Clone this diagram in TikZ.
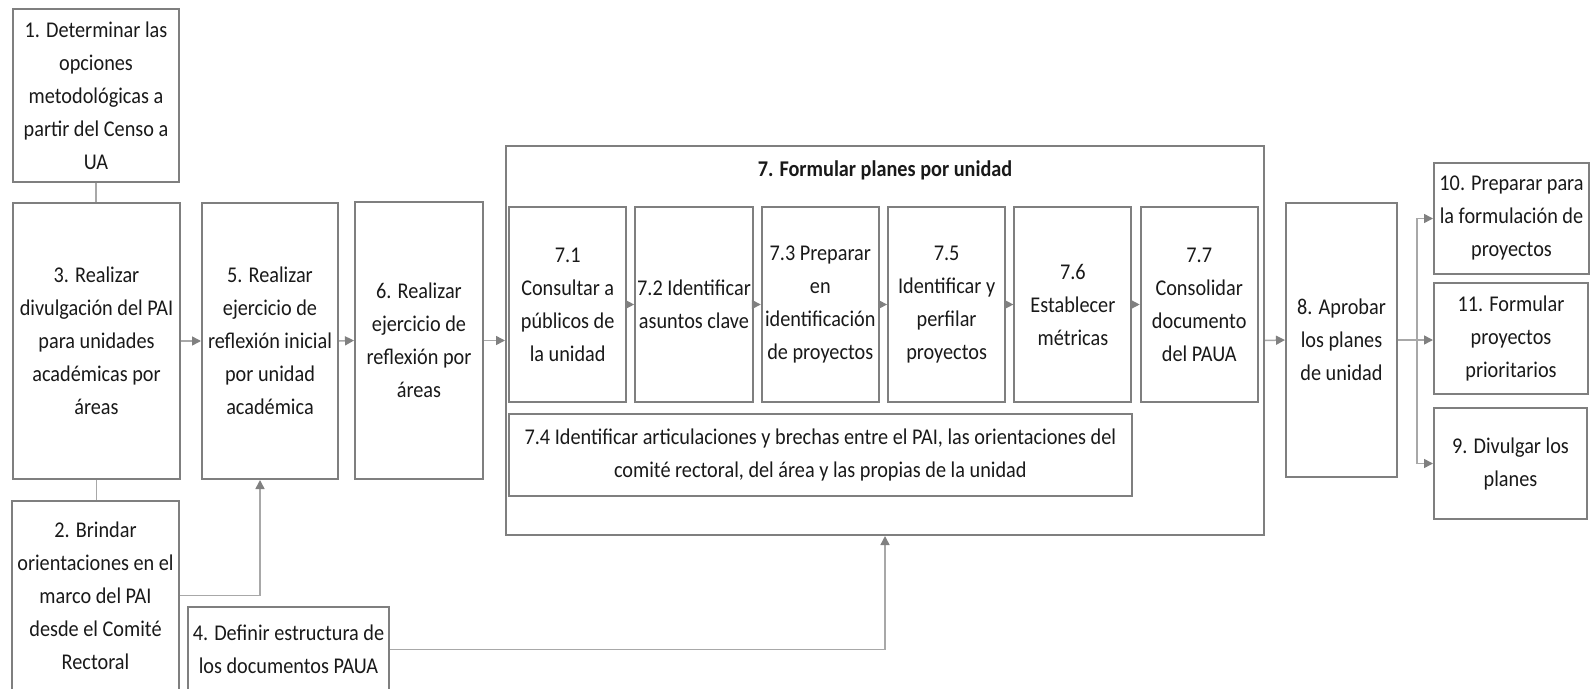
\documentclass[tikz,border=0pt]{standalone}
\usepackage{fontspec}
\newfontfamily\cajafont[FakeStretch=0.9]{Carlito}
\usetikzlibrary{arrows.meta}
\usetikzlibrary{positioning}
\usepackage{xcolor}
\definecolor{borde}{RGB}{127,127,127}
\definecolor{linea}{RGB}{168,168,168}
\definecolor{punta}{RGB}{128,128,128}
\definecolor{texto}{RGB}{25,25,25}

\begin{document}
\begin{tikzpicture}[x=1pt, y=-1pt,
		every node/.style={font=\cajafont\fontsize{22.5}{33}\selectfont, text=texto},
		caja/.style={draw=borde, line width=2pt, align=center, inner sep=2pt},
		flecha/.style={draw=linea, line width=1.5pt, -{Triangle[length=9pt,width=9pt,color=punta]}},
		union/.style={draw=linea, line width=1.5pt}]
		\useasboundingbox (0,0) rectangle (1595,688);

		% columna izquierda
		\node[caja, minimum width=166pt, minimum height=173pt] (b1) at (96,95.5) {1. Determinar las\\opciones\\metodológicas a\\partir del Censo a\\UA};
		\node[caja, minimum width=167pt, minimum height=276pt] (b3) at (96.5,341) {3. Realizar\\divulgación del PAI\\para unidades\\académicas por\\áreas};
		\node[caja, minimum width=167pt, minimum height=189pt] (b2) at (95.5,595.5) {2. Brindar\\orientaciones en el\\marco del PAI\\desde el Comité\\Rectoral};
		\node[caja, minimum width=136pt, minimum height=276pt] (b5) at (270,341) {5. Realizar\\ejercicio de\\reflexión inicial\\por unidad\\académica};
		\node[caja, minimum width=128pt, minimum height=277pt] (b6) at (419,340.5) {6. Realizar\\ejercicio de\\reflexión por\\áreas};
		\node[caja, minimum width=201pt, minimum height=85pt] (b4) at (288.5,649.5) {4. Definir estructura de\\los documentos PAUA};

		% bloque 7
		\node[caja, minimum width=758pt, minimum height=389pt] (c7) at (885,340.5) {};
		\node (t7) at (885,170) {\bfseries 7. Formular planes por unidad};
		\node[caja, minimum width=117pt, minimum height=195pt] (s71) at (567.7,304.5) {7.1\\Consultar a\\públicos de\\la unidad};
		\node[caja, minimum width=117pt, minimum height=195pt] (s72) at (694,304.5) {7.2 Identificar\\asuntos clave};
		\node[caja, minimum width=117pt, minimum height=195pt] (s73) at (820.3,304.5) {7.3 Preparar\\en\\identificación\\de proyectos};
		\node[caja, minimum width=117pt, minimum height=195pt] (s75) at (946.6,304.5) {7.5\\Identificar y\\perfilar\\proyectos};
		\node[caja, minimum width=117pt, minimum height=195pt] (s76) at (1072.9,304.5) {7.6\\Establecer\\métricas};
		\node[caja, minimum width=117pt, minimum height=195pt] (s77) at (1199.2,304.5) {7.7\\Consolidar\\documento\\del PAUA};
		\node[caja, minimum width=622.5pt, minimum height=82pt] (s74) at (820.3,455) {7.4 Identificar articulaciones y brechas entre el PAI, las orientaciones del\\comité rectoral, del área y las propias de la unidad};

		% columna derecha
		\node[caja, minimum width=111pt, minimum height=274pt] (b8) at (1341.5,340) {8. Aprobar\\los planes\\de unidad};
		\node[caja, minimum width=155pt, minimum height=111pt] (b10) at (1511.5,218.5) {10. Preparar para\\la formulación de\\proyectos};
		\node[caja, minimum width=154pt, minimum height=111pt] (b11) at (1511,338.5) {11. Formular\\proyectos\\prioritarios};
		\node[caja, minimum width=153pt, minimum height=111pt] (b9) at (1510.5,463.5) {9. Divulgar los\\planes};
		\coordinate (rama) at (1417,340);

		% conectores
		\draw[union] (b1.south) -- (b1.south |- b3.north);
		\draw[union] (b3.south) -- (b3.south |- b2.north);
		\draw[flecha] (b3.east) -- (b5.west);
		\draw[flecha] (b5.east) -- (b6.west);
		\draw[flecha] (b6.east) -- (c7.west);
		\draw[flecha] (b2.east) -| ([xshift=-10pt]b5.south);
		\draw[flecha] (b4.east) -| (c7.south);
		\draw[flecha] (s71) -- (s72);
		\draw[flecha] (s72) -- (s73);
		\draw[flecha] (s73) -- (s75);
		\draw[flecha] (s75) -- (s76);
		\draw[flecha] (s76) -- (s77);
		\draw[flecha] (c7.east) -- (b8.west);
		\draw[flecha] (b8.east) -- (b8.east -| b11.west);
		\draw[flecha] (rama) |- (b10.west);
		\draw[flecha] (rama) |- (b9.west);
	\end{tikzpicture}
\end{document}
